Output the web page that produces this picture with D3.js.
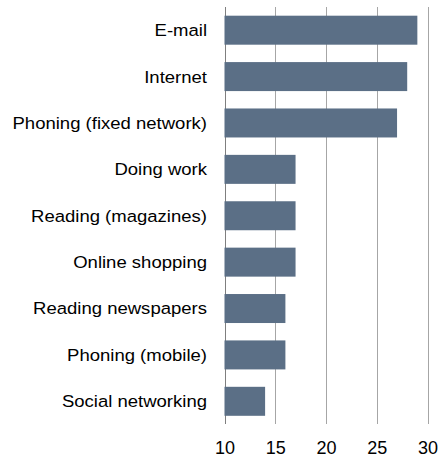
<!DOCTYPE html>
<html><head><meta charset="utf-8">
<script src="https://cdn.jsdelivr.net/npm/d3@7"></script>
<style>body{margin:0;background:#fff}svg{display:block}</style>
</head><body>
<svg id="c" width="440" height="459"></svg>
<script>
const categories = ["E-mail","Internet","Phoning (fixed network)","Doing work","Reading (magazines)","Online shopping","Reading newspapers","Phoning (mobile)","Social networking"];
const values = [29,28,27,17,17,17,16,16,14];
const tickValues = [10,15,20,25,30];

const svg = d3.select("#c");
const x = d3.scaleLinear().domain([10,30]).range([224.5,427.5]);
const y = d3.scaleBand().domain(categories).range([7,424.5]).paddingInner(0.375).paddingOuter(0.1875);
const font = "Liberation Sans, Arial, sans-serif";
const sx = 1.09;

// gridlines
svg.append("g").selectAll("line").data(tickValues).join("line")
  .attr("x1",d=>Math.round(x(d))+0.5).attr("x2",d=>Math.round(x(d))+0.5)
  .attr("y1",7).attr("y2",424)
  .attr("stroke",d=>d===10?"#7f7f7f":"#a6a6a6").attr("stroke-width",1);

// bars
svg.append("g").selectAll("rect").data(categories).join("rect")
  .attr("x",x(10)).attr("y",d=>y(d))
  .attr("width",(d,i)=>x(values[i])-x(10)).attr("height",y.bandwidth())
  .attr("fill","#5b6f86");

// category labels
svg.append("g").selectAll("text").data(categories).join("text")
  .attr("transform",d=>`translate(207,${y(d)+y.bandwidth()/2}) scale(${sx},1)`)
  .attr("dy","0.35em").attr("text-anchor","end")
  .attr("font-family",font).attr("font-size",17).attr("fill","#000")
  .text(d=>d);

// x axis tick labels
const ax = d3.axisBottom(x).tickValues(tickValues).tickSize(0).tickPadding(0);
const g = svg.append("g").attr("transform","translate(0,441)").call(ax);
g.select(".domain").remove();
g.selectAll("text").attr("font-family",font).attr("font-size",18).attr("fill","#000").attr("dy","0.71em");
</script>
</body></html>
